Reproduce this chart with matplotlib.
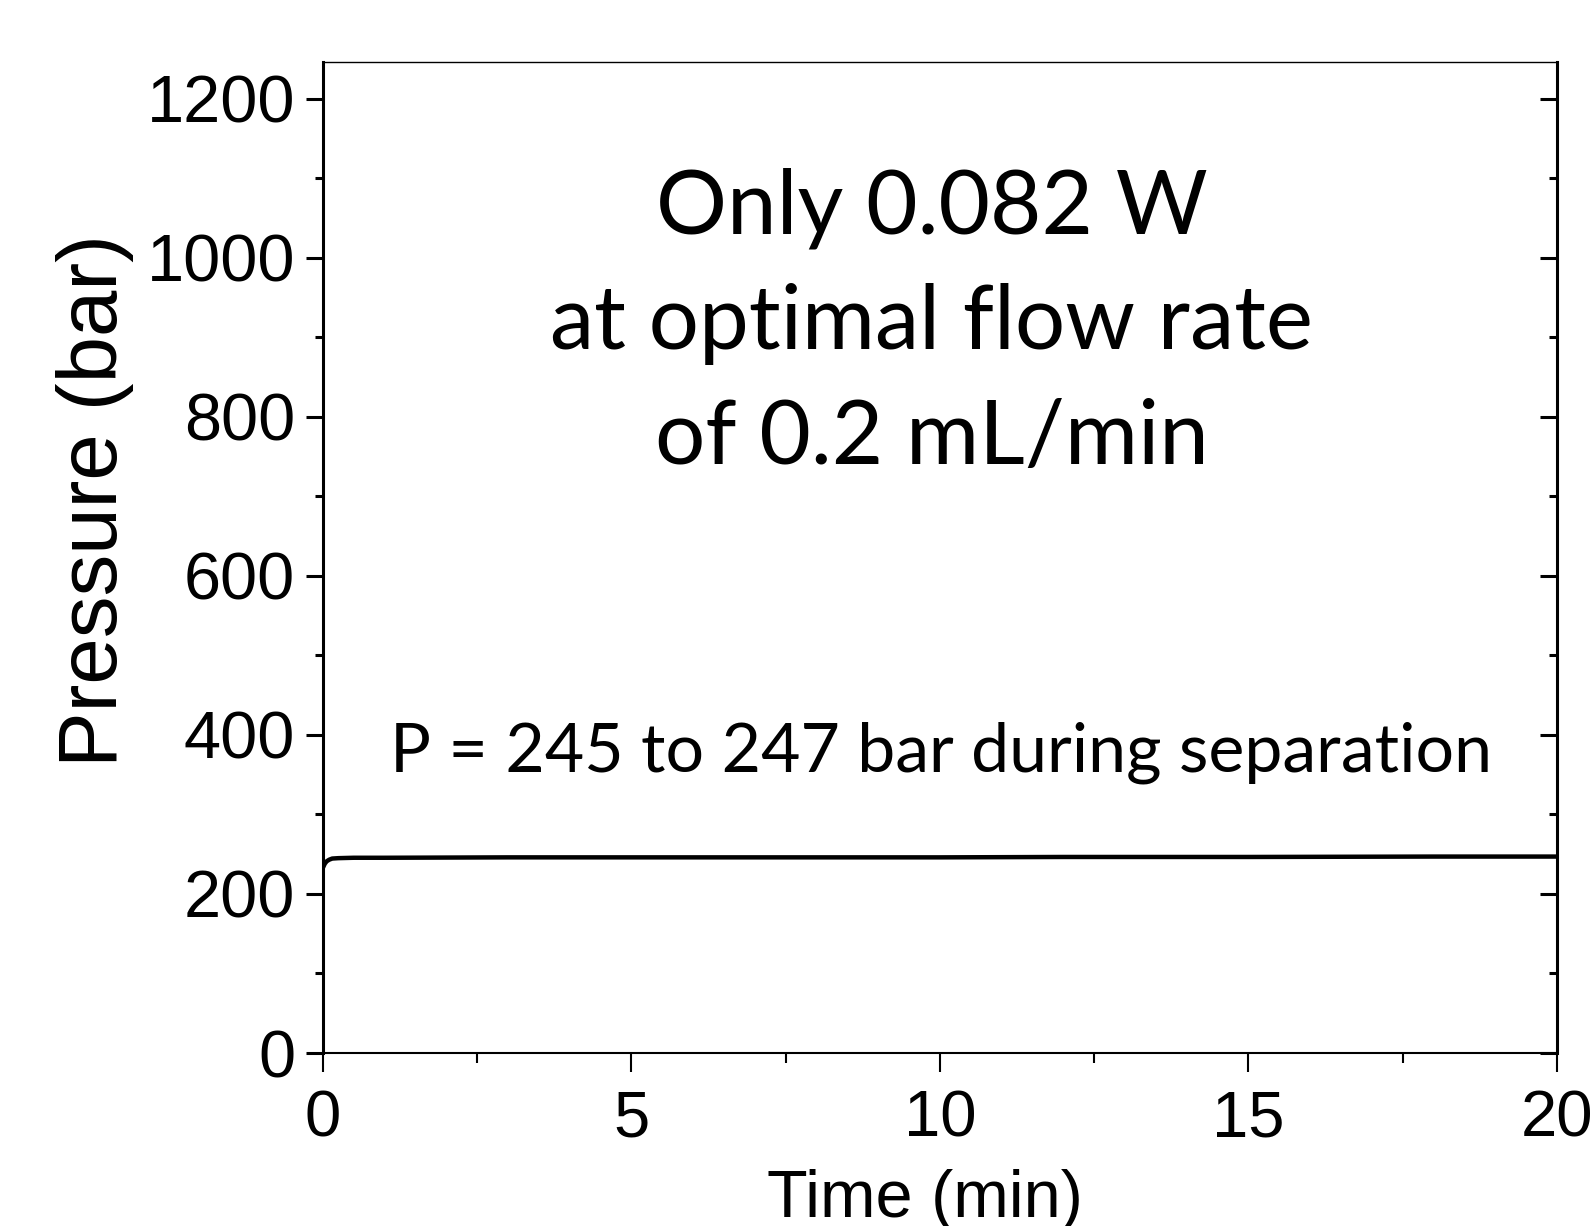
import numpy as np
import matplotlib
matplotlib.use("Agg")
import matplotlib.pyplot as plt
from matplotlib.ticker import MultipleLocator

plt.rcParams['font.family'] = ['Liberation Sans', 'DejaVu Sans']

# pressure trace
time_min = [0.0, 0.03, 0.06, 0.1, 0.15, 0.25, 0.5, 1, 3, 5, 8, 10, 12, 15, 18, 20]
pressure_bar = [233, 238, 241, 243, 244.5, 245, 245.5, 245.5, 246, 246, 246,
                246, 246.5, 246.5, 247, 247]

note_lines = ["Only 0.082 W", "at optimal flow rate", "of 0.2 mL/min"]
note_range = "P = 245 to 247 bar during separation"

fig = plt.figure(figsize=(15.9, 12.26), dpi=100)
ax = fig.add_axes([0.2031, 0.1411, 0.7761, 0.8083])

ax.plot(time_min, pressure_bar, color='black', lw=3.2, solid_capstyle='round')

ax.set_xlim(0, 20)
ax.set_ylim(0, 1246)
ax.xaxis.set_major_locator(MultipleLocator(5))
ax.xaxis.set_minor_locator(MultipleLocator(2.5))
ax.yaxis.set_major_locator(MultipleLocator(200))
ax.yaxis.set_minor_locator(MultipleLocator(100))

ax.spines['left'].set_linewidth(2.2)
ax.spines['right'].set_linewidth(2.2)
ax.spines['bottom'].set_linewidth(1.5)
ax.spines['top'].set_linewidth(1.0)

ax.tick_params(axis='x', which='major', direction='out', length=14, width=1.5,
               labelsize=47, pad=12)
ax.tick_params(axis='x', which='minor', direction='out', length=7, width=1.5)
ax.tick_params(axis='y', which='major', direction='out', length=12, width=2.2,
               labelsize=48, pad=8)
ax.tick_params(axis='y', which='minor', direction='out', length=6, width=2.2)

# right side: inward ticks, no labels
ax2 = ax.twinx()
ax2.set_ylim(ax.get_ylim())
ax2.yaxis.set_major_locator(MultipleLocator(200))
ax2.yaxis.set_minor_locator(MultipleLocator(100))
ax2.tick_params(axis='y', which='major', direction='in', length=12, width=2.2,
                labelright=False)
ax2.tick_params(axis='y', which='minor', direction='in', length=6, width=2.2)
for s in ax2.spines.values():
    s.set_visible(False)

ax.set_xlabel("Time (min)", fontsize=48)
ax.xaxis.set_label_coords(0.488, -0.117)
ax.set_ylabel("Pressure (bar)", fontsize=60)
ax.yaxis.set_label_coords(-0.153, 0.557)

note_font = ['Lato', 'DejaVu Sans']
note_y = [1030, 885, 740]
for line, y in zip(note_lines, note_y):
    ax.text(9.87, y, line, fontsize=64, family=note_font, ha='center', va='baseline')
ax.text(10.02, 354, note_range, fontsize=49, family=note_font, ha='center', va='baseline')

fig.savefig("out.png", dpi=100)
